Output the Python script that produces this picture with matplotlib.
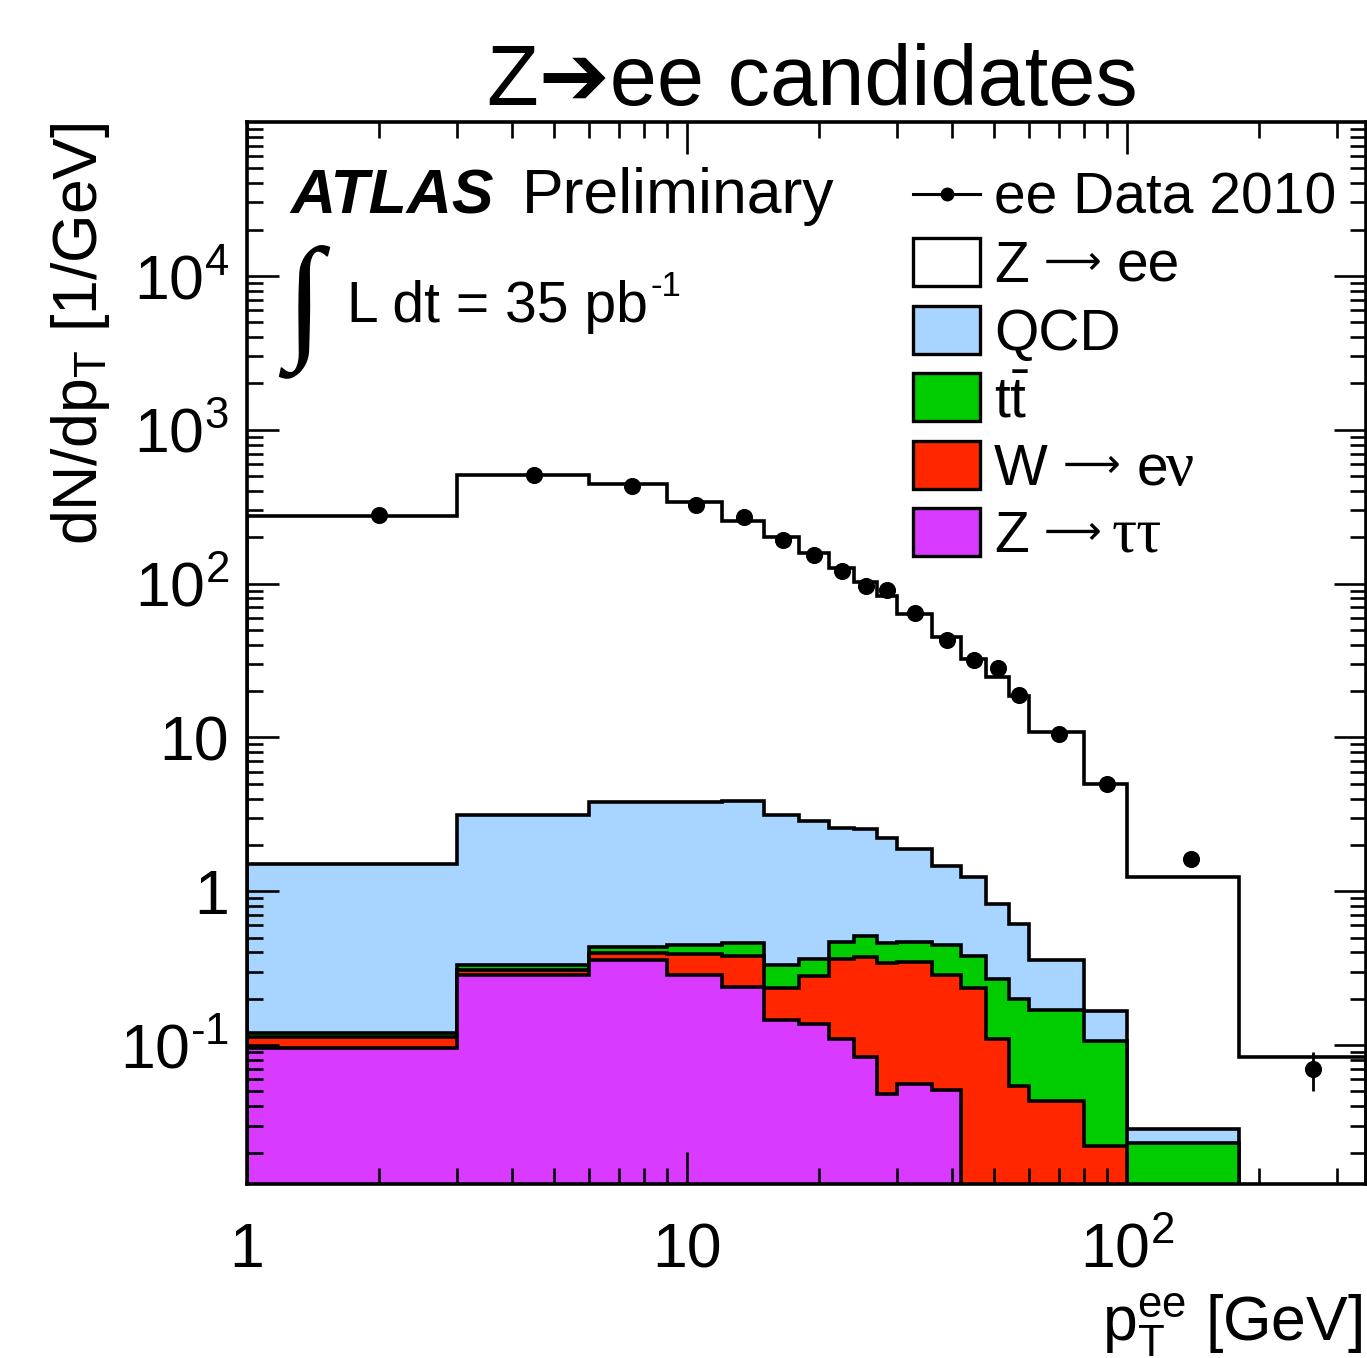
import numpy as np
import matplotlib
matplotlib.use('Agg')
import matplotlib.pyplot as plt
from matplotlib.patches import Rectangle
from matplotlib.lines import Line2D
from matplotlib.ticker import FixedLocator, FixedFormatter, LogLocator, NullFormatter

plt.rcParams['font.family'] = ['Liberation Sans', 'DejaVu Sans']
plt.rcParams['mathtext.fontset'] = 'custom'
plt.rcParams['mathtext.rm'] = 'Liberation Sans'
plt.rcParams['mathtext.it'] = 'Liberation Sans:italic'
plt.rcParams['mathtext.bf'] = 'Liberation Sans:bold'
plt.rcParams['mathtext.default'] = 'regular'

# pT(ee) bin edges [GeV]
pt_edges = [1, 3, 6, 9, 12, 15, 18, 21, 24, 27, 30, 36, 42, 48, 54, 60, 80, 100, 180, 350]

# data, dN/dpT [1/GeV]
data_vals = [279, 506, 429, 323, 271, 191, 153, 121, 95.7, 91, 64.3, 43.1,
             32.0, 28.1, 18.9, 10.5, 4.98, 1.61, 0.070]
data_err = [11.8, 13.0, 12.0, 10.4, 9.5, 8.0, 7.1, 6.4, 5.6, 5.5, 3.3, 2.7,
            2.3, 2.2, 1.8, 0.72, 0.50, 0.14, 0.020]

# MC predictions (not stacked)
zee = [273.5, 502.9, 438.2, 334.2, 252.2, 198.9, 154.2, 124.4, 100.5, 80.8, 61.4, 43.7,
       31.1, 23.7, 18.1, 10.4, 4.81, 1.20, 0.084]
qcd = [1.39, 2.80, 3.39, 3.36, 3.39, 2.80, 2.48, 2.12, 2.03, 1.75, 1.41, 1.00,
       0.86, 0.56, 0.41, 0.19, 0.059, 0.0055, 0]
ttbar = [0.008, 0.024, 0.035, 0.053, 0.080, 0.093, 0.079, 0.107, 0.137, 0.119, 0.122, 0.165,
         0.142, 0.158, 0.146, 0.125, 0.085, 0.023, 0]
wenu = [0.016, 0.023, 0.040, 0.106, 0.140, 0.091, 0.143, 0.251, 0.289, 0.295, 0.289, 0.233,
        0.236, 0.109, 0.054, 0.043, 0.022, 0, 0]
ztautau = [0.096, 0.286, 0.358, 0.286, 0.240, 0.145, 0.138, 0.109, 0.084, 0.048, 0.056, 0.051,
           0, 0, 0, 0, 0, 0, 0]

# stack order bottom -> top
stack = [ztautau, wenu, ttbar, qcd, zee]
stack_colors = ['#d83bff', '#ff2600', '#00cc00', '#a8d5ff', '#ffffff']
legend_colors = ['#ffffff', '#a8d5ff', '#00cc00', '#ff2600', '#d83bff']

SANS = ['Liberation Sans', 'DejaVu Sans']
SERIF = ['Liberation Serif', 'DejaVu Serif']
# legend label pieces: (text, x pixel, family, size)
legend_pieces = [
    [('Z', 994, SANS, 41), ('ee', 1117, SANS, 41)],
    [('QCD', 994, SANS, 41)],
    [(r't$\bar{\mathrm{t}}$', 994, SANS, 41)],
    [('W', 994, SANS, 41), ('e', 1137, SANS, 41), ('ν', 1166, SERIF, 45)],
    [('Z', 994, SANS, 41), ('ττ', 1112, SERIF, 45)],
]
# x pixel where the arrow of each legend entry starts (None: no arrow)
legend_arrow_x = [1044, None, None, 1063, 1044]

W, H = 1367, 1358
AX_L, AX_R, AX_T, AX_B = 247, 1366, 122, 1184


def ax_x(px):
    return (px - AX_L) / (AX_R - AX_L)


def ax_y(py):
    return (AX_B - py) / (AX_B - AX_T)


def main():
    fig = plt.figure(figsize=(W / 100, H / 100), dpi=100)
    ax = fig.add_axes([AX_L / W, 1 - AX_B / H, (AX_R - AX_L) / W, (AX_B - AX_T) / H])
    ax.set_xscale('log')
    ax.set_yscale('log')

    floor = 1e-4
    edges = np.array(pt_edges, dtype=float)
    cum = np.cumsum(np.array(stack, dtype=float), axis=0)
    # draw the tallest stack first, smaller ones on top
    for i in range(len(stack) - 1, -1, -1):
        ax.stairs(np.clip(cum[i], floor, None), edges, baseline=floor, fill=True,
                  facecolor=stack_colors[i], edgecolor='black', linewidth=2.6,
                  zorder=1 + (len(stack) - i) * 0.1)

    centers = 0.5 * (edges[:-1] + edges[1:])
    ax.errorbar(centers, data_vals, yerr=data_err, fmt='o', color='black',
                ms=11.3, elinewidth=2.0, capsize=0, zorder=5)

    ax.set_xlim(1, 350)
    ax.set_ylim(0.0125, 1e5)

    # ticks
    ax.xaxis.set_major_locator(FixedLocator([1, 10, 100]))
    ax.xaxis.set_major_formatter(FixedFormatter(['1', '10', r'$10^{2}$']))
    ax.xaxis.set_minor_locator(LogLocator(base=10, subs=np.arange(2, 10)))
    ax.xaxis.set_minor_formatter(NullFormatter())
    ax.yaxis.set_major_locator(FixedLocator([0.1, 1, 10, 100, 1e3, 1e4]))
    ax.yaxis.set_major_formatter(FixedFormatter(['$10^{\u2010' + '1}$', '1', '10', r'$10^{2}$',
                                                 r'$10^{3}$', r'$10^{4}$']))
    ax.yaxis.set_minor_locator(LogLocator(base=10, subs=np.arange(2, 10), numticks=20))
    ax.yaxis.set_minor_formatter(NullFormatter())
    ax.tick_params(which='both', direction='in', top=True, right=True, width=1.9,
                   labelsize=45)
    ax.tick_params(which='major', length=23)
    ax.tick_params(which='minor', length=11.5)
    ax.tick_params(axis='x', which='major', pad=60)
    ax.tick_params(axis='y', which='major', pad=13)
    plt.setp(ax.get_xticklabels(), va='baseline')
    for sp in ax.spines.values():
        sp.set_linewidth(2.6)
        sp.set_zorder(6)

    ax.set_xlabel(r'p$_{\mathrm{T}}^{\mathrm{ee}}$ [GeV]', fontsize=45, loc='right', va='baseline')
    ax.xaxis.set_label_coords(ax_x(1362), ax_y(1340))
    ax.set_ylabel(r'dN/dp$_{\mathrm{T}}$ [1/GeV]', fontsize=45, loc='top', va='baseline')
    ax.yaxis.set_label_coords(ax_x(97), 1.0)

    fig.text(812 / W, 1 - 105 / H, 'Z\u2794ee candidates', fontsize=61, ha='center',
             va='baseline')

    # ATLAS label and luminosity
    ax.text(ax_x(290), ax_y(213), 'ATLAS', fontsize=45, fontweight='bold', fontstyle='italic',
            va='baseline', transform=ax.transAxes)
    ax.text(ax_x(522), ax_y(213), 'Preliminary', fontsize=45, va='baseline',
            transform=ax.transAxes)
    ax.text(ax_x(304), ax_y(311), '∫', fontsize=98, family=SERIF, fontweight='bold',
            ha='center', va='center', transform=ax.transAxes)
    ax.text(ax_x(347), ax_y(322), 'L dt = 35 pb', fontsize=41, va='baseline',
            transform=ax.transAxes)
    ax.text(ax_x(650), ax_y(296), '-1', fontsize=25, va='baseline', transform=ax.transAxes)

    # legend
    rows = [194, 262, 330, 397, 465, 532]
    ax.add_line(Line2D([ax_x(913), ax_x(980)], [ax_y(rows[0])] * 2, color='black', lw=2.2,
                       transform=ax.transAxes, zorder=7))
    ax.add_line(Line2D([ax_x(947)], [ax_y(rows[0])], marker='o', ms=9, color='black',
                       transform=ax.transAxes, zorder=7))
    ax.text(ax_x(994), ax_y(rows[0] + 20), 'ee Data 2010', fontsize=41, va='baseline',
            transform=ax.transAxes)
    for row, pieces, col, arr_x in zip(rows[1:], legend_pieces, legend_colors, legend_arrow_x):
        ax.add_patch(Rectangle((ax_x(913), ax_y(row + 24)), ax_x(980) - ax_x(913),
                               ax_y(row - 24) - ax_y(row + 24), facecolor=col,
                               edgecolor='black', lw=2.4, transform=ax.transAxes, zorder=7))
        for txt, xpx, fam, size in pieces:
            ax.text(ax_x(xpx), ax_y(row + 20), txt, fontsize=size, family=fam, va='baseline',
                    transform=ax.transAxes)
        if arr_x is not None:
            ax.text(ax_x(arr_x), ax_y(row + 1), '\u27f6', fontsize=29, family=['DejaVu Sans'],
                    va='center', transform=ax.transAxes)

    fig.savefig('out.png', dpi=100)


if __name__ == '__main__':
    main()
